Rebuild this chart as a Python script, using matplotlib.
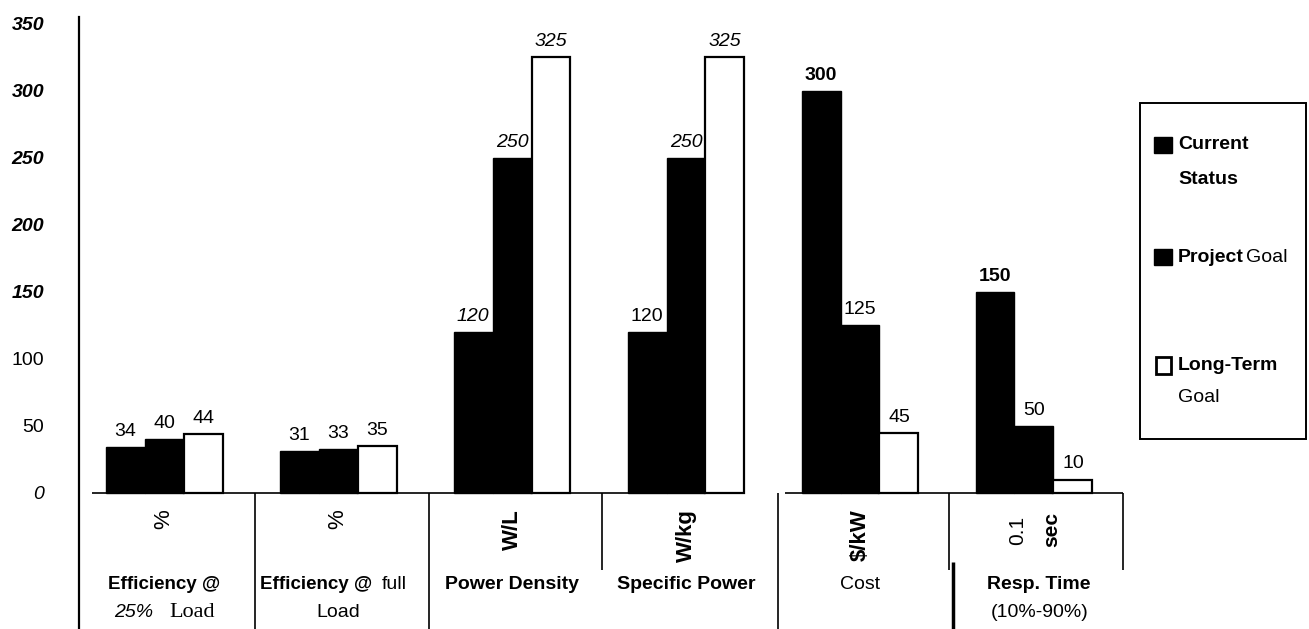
import numpy as np
import matplotlib.pyplot as plt
from matplotlib.patches import Rectangle

plt.rcParams['font.family'] = ['Liberation Sans', 'DejaVu Sans']
plt.rcParams['font.size'] = 14

# data
units = ['%', '%', 'W/L', 'W/kg', '$/kW', '0.1 sec']
current_status = [34, 31, 120, 120, 300, 150]
project_goal = [40, 33, 250, 250, 125, 50]
long_term_goal = [44, 35, 325, 325, 45, 10]
yticks = [0, 50, 100, 150, 200, 250, 300, 350]

# per-label font styling (group, series) -> (style, weight)
label_style = {(2, 0): ('italic', 'normal'), (2, 1): ('italic', 'normal'), (2, 2): ('italic', 'normal'),
               (3, 1): ('italic', 'normal'), (3, 2): ('italic', 'normal'),
               (4, 0): ('normal', 'bold'), (5, 0): ('normal', 'bold')}

W, H = 1309, 629
fig = plt.figure(figsize=(W / 100, H / 100), dpi=100)
ax = fig.add_axes([79 / W, 0, (1130 - 79) / W, (629 - 17) / H])
ax.set_xlim(-0.489, 5.552)
ax.set_ylim(-101.5, 355.2)

for s in ['top', 'right', 'bottom']:
    ax.spines[s].set_visible(False)
ax.spines['left'].set_linewidth(1.6)
ax.set_xticks([])
ax.set_yticks(yticks)
ax.tick_params(axis='y', length=0, pad=25)
for lbl, v in zip(ax.get_yticklabels(), yticks):
    if v >= 150:
        lbl.set_style('italic'); lbl.set_weight('bold')
    elif v == 0:
        lbl.set_style('italic')

x = np.arange(len(units))
w = 0.224
series = [current_status, project_goal, long_term_goal]
ax.bar(x - w, current_status, w, color='black', edgecolor='black', lw=1)
ax.bar(x, project_goal, w, color='black', edgecolor='black', lw=1)
ax.bar(x + w, long_term_goal, w, color='white', edgecolor='black', lw=1.6)

# value labels
for j, vals in enumerate(series):
    for i, v in enumerate(vals):
        st, wt = label_style.get((i, j), ('normal', 'normal'))
        ax.annotate(str(v), (x[i] + (j - 1) * w, v), xytext=(0, 8), textcoords='offset points',
                    ha='center', va='baseline', style=st, weight=wt)

# baseline and table grid underneath
ax.hlines(0, -0.414, 3.33, color='black', lw=1.2)
ax.hlines(0, 3.57, 5.51, color='black', lw=1.2)
for xv, y0 in [(0.52, -101.5), (1.52, -101.5), (2.52, -57.5), (3.53, -101.5), (4.51, -57.5), (5.51, -57.5)]:
    ax.vlines(xv, y0, 0, color='black', lw=1.2)
ax.vlines(4.535, -101.5, -51.5, color='black', lw=2.5)

# units
for i, u in enumerate(units[:5]):
    ax.text(x[i], -12, u, rotation=90, ha='center', va='top', size=16,
            weight='normal' if u == '%' else 'bold')
u1, u2 = units[5].split()
ax.text(4.908, -27.6, u1, rotation=90, ha='center', va='center', size=15)
ax.text(5.103, -27.6, u2, rotation=90, ha='center', va='center', size=15, weight='bold')

# category names
r1, r2 = -68, -89
ax.text(x[0], r1, 'Efficiency @', ha='center', va='center', weight='bold', size=13.5)
ax.text(-0.063, r2, '25%', ha='right', va='center', style='italic')
ax.text(0.03, r2, 'Load', ha='left', va='center', family='Liberation Serif', size=16)
ax.text(1.195, r1, 'Efficiency @', ha='right', va='center', weight='bold', size=13.5)
ax.text(1.25, r1, 'full', ha='left', va='center')
ax.text(x[1], r2, 'Load', ha='center', va='center')
ax.text(x[2], r1, 'Power Density', ha='center', va='center', weight='bold')
ax.text(x[3], r1, 'Specific Power', ha='center', va='center', weight='bold')
ax.text(x[4], r1, 'Cost', ha='center', va='center')
ax.text(x[5] + 0.03, r1, 'Resp. Time', ha='center', va='center', weight='bold')
ax.text(x[5] + 0.03, r2, '(10%-90%)', ha='center', va='center')

# legend box
def fx(px): return px / W
def fy(py): return 1 - py / H

fig.patches.append(Rectangle((fx(1140), fy(439)), fx(1306) - fx(1140), fy(103) - fy(439),
                             transform=fig.transFigure, fill=False, ec='black', lw=1.4))
fig.patches.append(Rectangle((fx(1154), fy(153)), fx(18), fy(137) - fy(153),
                             transform=fig.transFigure, fc='black', ec='black'))
fig.patches.append(Rectangle((fx(1154), fy(265)), fx(18), fy(249) - fy(265),
                             transform=fig.transFigure, fc='black', ec='black'))
fig.patches.append(Rectangle((fx(1156), fy(374)), fx(15), fy(357) - fy(374),
                             transform=fig.transFigure, fc='white', ec='black', lw=2))
fig.text(fx(1178), fy(145), 'Current', va='center', weight='bold')
fig.text(fx(1178), fy(180), 'Status', va='center', weight='bold')
fig.text(fx(1178), fy(257), 'Project', va='center', weight='bold')
fig.text(fx(1246), fy(257), 'Goal', va='center')
fig.text(fx(1178), fy(366), 'Long-Term', va='center', weight='bold')
fig.text(fx(1178), fy(398), 'Goal', va='center')

fig.savefig('out.png', dpi=100)
